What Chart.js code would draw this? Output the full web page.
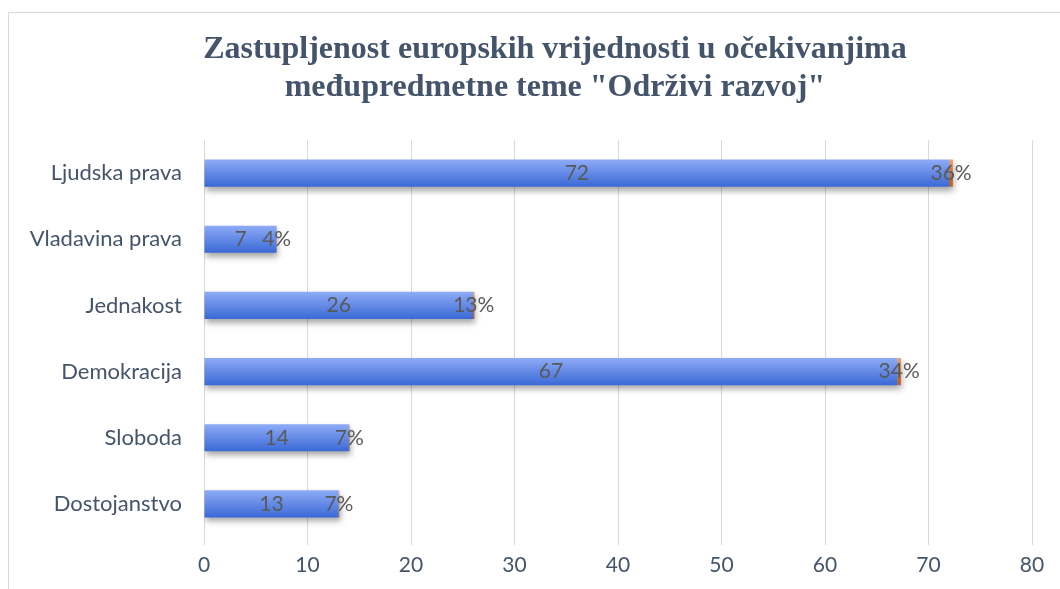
<!DOCTYPE html>
<html>
<head>
<meta charset="utf-8">
<script src="https://cdn.jsdelivr.net/npm/chart.js@4"></script>
<style>
  body { margin: 0; background: #fff; overflow: hidden; }
  #frame { position: absolute; left: 8px; top: 12px; width: 1200px; height: 700px; border: 1px solid #d9d9d9; }
  #wrap { position: absolute; left: 0; top: 0; width: 1060px; height: 589px; }
</style>
</head>
<body>
<div id="frame"></div>
<div id="wrap"><canvas id="valuesChart"></canvas></div>
<script>
const categories = ["Ljudska prava", "Vladavina prava", "Jednakost", "Demokracija", "Sloboda", "Dostojanstvo"];
const counts = [72, 7, 26, 67, 14, 13];
const shares = [0.36, 0.04, 0.13, 0.34, 0.07, 0.07];
const shareLabels = ["36%", "4%", "13%", "34%", "7%", "7%"];
const xTicks = [0, 10, 20, 30, 40, 50, 60, 70, 80];
const titleLines = ["Zastupljenost europskih vrijednosti u očekivanjima", "međupredmetne teme \"Održivi razvoj\""];

const labelFont = "Lato, 'Open Sans', sans-serif";

// gradient fills + soft shadow under the bars
const barLook = {
    id: "barLook",
    beforeDatasetsDraw(chart) {
        const ctx = chart.ctx;
        const colors = [["#8eabf6", "#3a69d6"], ["#f7a46a", "#e0661c"]];
        [0, 1].forEach(d => {
            chart.getDatasetMeta(d).data.forEach(el => {
                const h = el.height;
                const g = ctx.createLinearGradient(0, el.y - h / 2, 0, el.y + h / 2);
                g.addColorStop(0, colors[d][0]);
                g.addColorStop(1, colors[d][1]);
                el.options = Object.assign({}, el.options, { backgroundColor: g });
            });
        });
        ctx.save();
        ctx.shadowColor = "rgba(0,0,0,0.35)";
        ctx.shadowBlur = 6;
        ctx.shadowOffsetX = 1;
        ctx.shadowOffsetY = 4;
    },
    afterDatasetsDraw(chart) {
        chart.ctx.restore();
    }
};

const barLabels = {
    id: "barLabels",
    afterDatasetsDraw(chart) {
        const ctx = chart.ctx;
        ctx.save();
        ctx.font = "21px " + labelFont;
        ctx.fillStyle = "#595959";
        ctx.textAlign = "center";
        ctx.textBaseline = "middle";
        chart.getDatasetMeta(0).data.forEach((bar, i) => {
            ctx.fillText(String(counts[i]), (bar.x + bar.base) / 2, bar.y);
        });
        chart.getDatasetMeta(1).data.forEach((bar, i) => {
            ctx.fillText(shareLabels[i], (bar.x + bar.base) / 2, bar.y);
        });
        ctx.restore();
    }
};

// title is centred on the whole frame, not the chart area
const frameTitle = {
    id: "frameTitle",
    afterDraw(chart) {
        const ctx = chart.ctx;
        ctx.save();
        ctx.font = "bold 32px 'Liberation Serif', 'DejaVu Serif', serif";
        ctx.fillStyle = "#44546a";
        ctx.textAlign = "center";
        ctx.textBaseline = "middle";
        titleLines.forEach((line, i) => ctx.fillText(line, 555, 50 + i * 38));
        ctx.restore();
    }
};

const ctx = document.getElementById("valuesChart").getContext("2d");
const chart = new Chart(ctx, {
    type: "bar",
    data: {
        labels: categories,
        datasets: [{
            label: "Broj",
            data: counts,
            backgroundColor: "#5b84e8",
            categoryPercentage: 1,
            barPercentage: 0.41
        }, {
            label: "Postotak",
            data: shares,
            backgroundColor: "#ed7d31",
            categoryPercentage: 1,
            barPercentage: 0.41
        }]
    },
    options: {
        indexAxis: "y",
        responsive: true,
        maintainAspectRatio: false,
        animation: false,
        layout: { padding: { left: 0, right: 28, top: 140, bottom: 0 } },
        scales: {
            x: {
                stacked: true,
                min: 0,
                max: 80,
                afterBuildTicks: (scale) => { scale.ticks = xTicks.map(v => ({ value: v })); },
                afterFit: (scale) => { scale.height = 52; },
                grid: { color: "#d9d9d9", tickLength: 8 },
                border: { display: false },
                ticks: { color: "#44546a", font: { family: labelFont, size: 21 }, padding: 8 }
            },
            y: {
                stacked: true,
                afterFit: (scale) => { scale.width = 204; },
                grid: { display: false, drawTicks: false },
                border: { display: false },
                ticks: { color: "#44546a", font: { family: labelFont, size: 22 }, padding: 22 }
            }
        },
        plugins: {
            legend: { display: false },
            tooltip: { enabled: false },
            title: { display: false }
        }
    },
    plugins: [barLook, barLabels, frameTitle]
});
</script>
</body>
</html>
